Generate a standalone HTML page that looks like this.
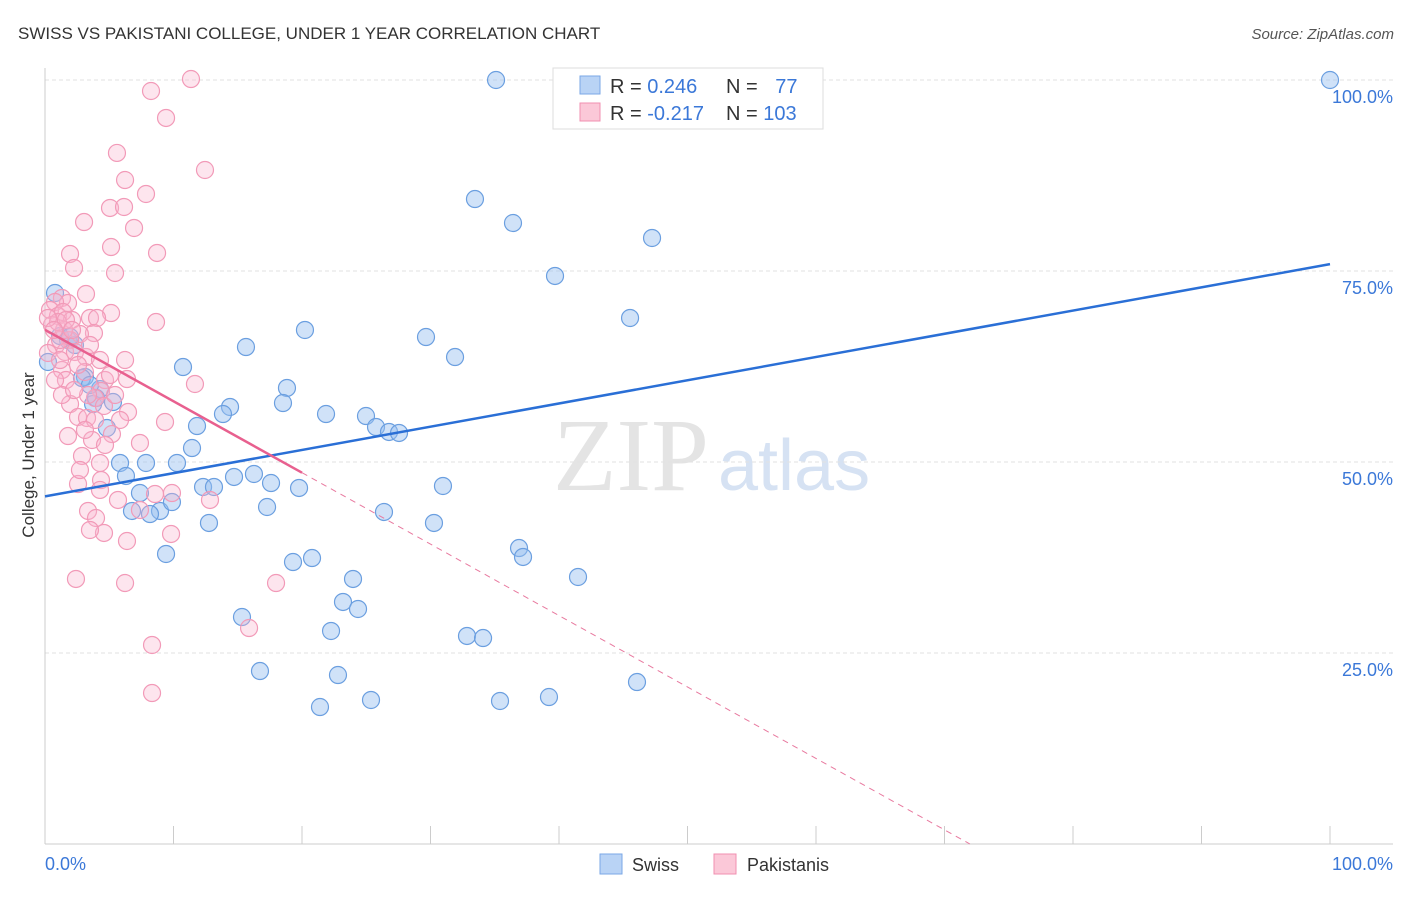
<!DOCTYPE html>
<html><head><meta charset="utf-8"><style>
body{margin:0;background:#fff;font-family:"Liberation Sans",sans-serif;}
</style></head><body>
<svg id="c" width="1406" height="892" xmlns="http://www.w3.org/2000/svg">
<text x="18" y="39" font-size="17" fill="#333">SWISS VS PAKISTANI COLLEGE, UNDER 1 YEAR CORRELATION CHART</text>
<text x="1394" y="39" font-size="15" fill="#555" text-anchor="end" font-style="italic">Source: ZipAtlas.com</text>
<text x="553" y="490" font-size="104" fill="#e4e4e4" font-family="Liberation Serif">ZIP</text>
<text x="718" y="490" font-size="72" fill="#d6e2f3">atlas</text>
<g id="grid"></g><g id="pts"></g><g id="lines"></g>
<text x="34" y="455" font-size="17" fill="#333" text-anchor="middle" transform="rotate(-90 34 455)">College, Under 1 year</text>
<text x="45" y="870" font-size="18" fill="#3b78d8">0.0%</text>
<text x="1393" y="870" font-size="18" fill="#3b78d8" text-anchor="end">100.0%</text>
<g>
<rect x="553" y="68" width="270" height="61" fill="#fff" stroke="#ddd"/>
<rect x="580" y="76" width="20" height="18" fill="#b9d3f5" stroke="#7aa7e6"/>
<rect x="580" y="103" width="20" height="18" fill="#fbc8d8" stroke="#f08fb0"/>
<text x="610" y="93" font-size="20" fill="#333">R = <tspan fill="#3b78d8">0.246</tspan></text>
<text x="726" y="93" font-size="20" fill="#333">N = <tspan fill="#3b78d8" dx="12">77</tspan></text>
<text x="610" y="120" font-size="20" fill="#333">R = <tspan fill="#3b78d8">-0.217</tspan></text>
<text x="726" y="120" font-size="20" fill="#333">N = <tspan fill="#3b78d8">103</tspan></text>
</g>
<g>
<rect x="600" y="854" width="22" height="20" fill="#b9d3f5" stroke="#7aa7e6"/>
<text x="632" y="871" font-size="18" fill="#333">Swiss</text>
<rect x="714" y="854" width="22" height="20" fill="#fbc8d8" stroke="#f08fb0"/>
<text x="747" y="871" font-size="18" fill="#333">Pakistanis</text>
</g>
</svg>
<script>
const yTicks=[25,50,75,100];
const xTicks=[0,10,20,30,40,50,60,70,80,90,100];
const bluePx=[[55,293],[48,362],[496,80],[1330,80],[475,199],[513,223],[652,238],[555,276],[630,318],[305,330],[426,337],[455,357],[246,347],[183,367],[287,388],[230,407],[223,414],[283,403],[326,414],[366,416],[376,427],[389,432],[399,433],[197,426],[192,448],[113,402],[100,389],[85,377],[93,404],[107,428],[120,463],[146,463],[177,463],[126,476],[140,493],[132,511],[160,511],[150,514],[172,502],[203,487],[214,487],[234,477],[254,474],[271,483],[299,488],[267,507],[209,523],[384,512],[443,486],[434,523],[166,554],[293,562],[312,558],[519,548],[523,557],[578,577],[353,579],[343,602],[358,609],[242,617],[331,631],[467,636],[483,638],[260,671],[338,675],[371,700],[320,707],[500,701],[549,697],[637,682],[68,340],[75,345],[82,378],[96,398],[60,336],[70,337],[90,385]];
const pinkPx=[[191,79],[151,91],[166,118],[117,153],[205,170],[125,180],[146,194],[110,208],[124,207],[84,222],[134,228],[111,247],[70,254],[157,253],[74,268],[115,273],[86,294],[62,298],[68,303],[55,302],[50,310],[58,316],[63,312],[52,325],[72,320],[90,318],[111,313],[97,318],[156,322],[94,333],[80,334],[70,340],[56,345],[65,352],[75,352],[86,357],[48,353],[62,370],[85,372],[105,380],[127,379],[195,384],[101,391],[95,398],[70,404],[104,406],[128,412],[78,417],[87,418],[120,420],[165,422],[68,436],[92,440],[112,434],[140,443],[82,456],[100,463],[78,484],[101,480],[100,490],[155,494],[172,493],[210,500],[88,511],[96,518],[140,510],[104,533],[127,541],[171,534],[76,579],[125,583],[276,583],[249,628],[152,645],[152,693],[60,340],[64,330],[58,322],[66,320],[72,330],[48,318],[54,330],[60,360],[78,365],[90,345],[100,360],[110,375],[88,395],[66,380],[115,395],[55,380],[62,395],[74,390],[125,360],[95,420],[85,430],[105,445],[80,470],[118,500],[90,530]];
const swissX=bluePx.map(p=>+((p[0]-45)/12.85).toFixed(2));
const swissY=bluePx.map(p=>+((844-p[1])/7.64).toFixed(2));
const pakX=pinkPx.map(p=>+((p[0]-45)/12.85).toFixed(2));
const pakY=pinkPx.map(p=>+((844-p[1])/7.64).toFixed(2));
const swissTrend=[45.5,75.9];
const pakTrend=[67.3,-0.935];
const X=v=>45+v*12.85, Y=v=>844-v*7.64;
const NS='http://www.w3.org/2000/svg';
function mk(t,a,p){const e=document.createElementNS(NS,t);for(const k in a)e.setAttribute(k,a[k]);p.appendChild(e);return e;}
const g=document.getElementById('grid');
yTicks.forEach(v=>{const l=mk('line',{x1:45,x2:1393,y1:Y(v),y2:Y(v),stroke:'#e2e2e2','stroke-dasharray':'4,3'},g);


const t=mk('text',{x:1393,y:Y(v)+23,'font-size':18,fill:'#3b78d8','text-anchor':'end'},g);t.textContent=v.toFixed(1)+'%';

});
mk('line',{x1:45,x2:45,y1:68,y2:844,stroke:'#ccc'},g);
mk('line',{x1:45,x2:1393,y1:844,y2:844,stroke:'#ccc'},g);
xTicks.forEach(v=>{const l=mk('line',{x1:X(v),x2:X(v),y1:826,y2:844,stroke:'#ccc'},g);

});
const P=document.getElementById('pts');
swissX.forEach((x,i)=>{const c=mk('circle',{cx:X(x),cy:Y(swissY[i]),r:8.5,fill:'rgba(150,190,240,0.45)',stroke:'#6b9fe0','stroke-width':1.2},P);

});
pakX.forEach((x,i)=>{const c=mk('circle',{cx:X(x),cy:Y(pakY[i]),r:8.5,fill:'rgba(248,180,205,0.35)',stroke:'#f29ab8','stroke-width':1.2},P);

});
const L=document.getElementById('lines');
let a=mk('line',{x1:X(0),y1:Y(swissTrend[0]),x2:X(100),y2:Y(swissTrend[1]),stroke:'#2a6fd6','stroke-width':2.5},L);


const xe=pakTrend[0]/-pakTrend[1];
let b=mk('line',{x1:X(20),y1:Y(pakTrend[0]+pakTrend[1]*20),x2:X(xe),y2:Y(0),stroke:'#e8799f','stroke-width':1,'stroke-dasharray':'6,5'},L);


let s=mk('line',{x1:X(0),y1:Y(pakTrend[0]),x2:X(20),y2:Y(pakTrend[0]+pakTrend[1]*20),stroke:'#e8608f','stroke-width':2.5},L);


</script>
</body></html>
